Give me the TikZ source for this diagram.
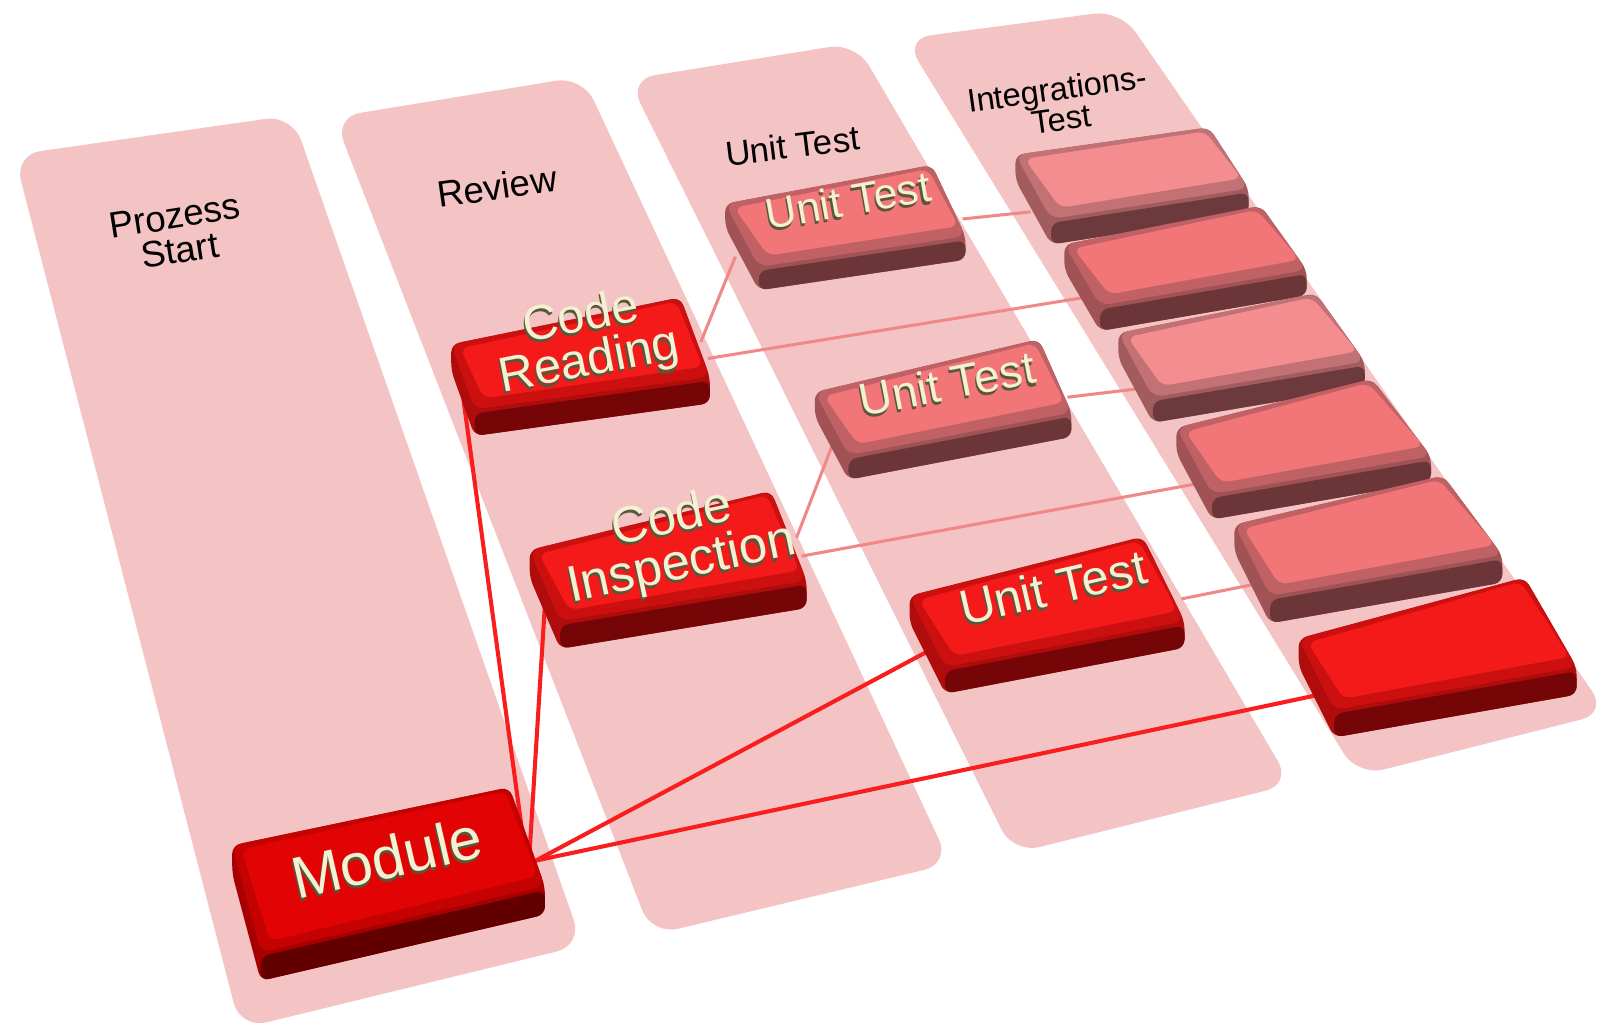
\documentclass[tikz,border=0pt]{standalone}
\usepackage{fontspec}
\setmainfont{Liberation Sans}
\usetikzlibrary{calc}
\definecolor{lanefill}{HTML}{F4C4C5}
\definecolor{rtop}{HTML}{F51A1A}
\definecolor{rbevel}{HTML}{CC1010}
\definecolor{rfront}{HTML}{760508}
\definecolor{rside}{HTML}{B00C0C}
\definecolor{mtop}{HTML}{E20404}
\definecolor{mbevel}{HTML}{C40202}
\definecolor{mfront}{HTML}{620000}
\definecolor{mside}{HTML}{A80000}
\definecolor{ptop}{HTML}{F27678}
\definecolor{pbevel}{HTML}{C06265}
\definecolor{pfront}{HTML}{6C3537}
\definecolor{pside}{HTML}{A05255}
\definecolor{qtop}{HTML}{F48D8F}
\definecolor{qbevel}{HTML}{C27274}
\definecolor{qfront}{HTML}{6C3A3C}
\definecolor{qside}{HTML}{A35C5E}
\definecolor{txtcream}{HTML}{F3F1D3}
\definecolor{txtshadow}{HTML}{5A5638}
\definecolor{redline}{HTML}{F81E1E}
\definecolor{pinkline}{HTML}{F0888A}
\tikzset{
  lane/.style={fill=lanefill, rounded corners=13pt},
  lanelabel/.style={text=black, align=center, inner sep=0pt},
  keytext/.style={text=txtcream, align=center, inner sep=0pt},
  redconn/.style={draw=redline, line width=2pt},
  pinkconn/.style={draw=pinkline, line width=1.5pt}
}
% extruded lettering: one dark copy below-left, cream on top
\newcommand{\extr}[1]{\leavevmode\rlap{\kern-0.8pt\raisebox{-1.5pt}{\color{txtshadow}#1}}#1}
% #1 name, #2 A, #3 B, #4 C, #5 D, #6 height, #7 colour scheme
\newcommand{\keybox}[7]{%
  \coordinate (#1-A) at (#2);
  \coordinate (#1-B) at (#3);
  \coordinate (#1-C) at (#4);
  \coordinate (#1-D) at (#5);
  \coordinate (#1-Ah) at ($(#1-A)+(0,#6)$);
  \coordinate (#1-Ch) at ($(#1-C)+(0,#6)$);
  \coordinate (#1-Dh) at ($(#1-D)+(0,#6)$);
  \fill[#7side, rounded corners=4pt] (#1-A) -- (#1-B) -- (#1-C) -- (#1-Ch) -- (#1-Dh) -- (#1-Ah) -- cycle;
  \fill[#7front, rounded corners=4pt] ($(#1-D)+(0,4)$) -- ($(#1-C)+(0,4)$) -- (#1-Ch) -- (#1-Dh) -- cycle;
  \fill[#7bevel, rounded corners=5pt] (#1-A) -- (#1-B) -- (#1-C) -- (#1-D) -- cycle;
  \fill[#7top, rounded corners=4pt] ($(#1-A)+(9,4)$) -- ($(#1-B)+(-4,4)$) -- ($(#1-C)+(-7,-10)$) -- ($(#1-D)+(9,-11)$) -- cycle;
}
% #1 name, #2 pos, #3 angle, #4 size, #5 skip, #6 text
\newcommand{\keylabel}[6]{%
  \node[keytext, rotate=#3, font=\fontsize{#4}{#5}\selectfont] (#1) at (#2) {#6};
}
\begin{document}
\begin{tikzpicture}[x=0.5pt,y=-0.5pt]
\useasboundingbox (0,0) rectangle (1568,1006);
% lanes
\fill[lane] (14,152) -- (287,113) -- (572,928) -- (236,1010) -- cycle;
\fill[lane] (328,115) -- (572,75) -- (933,848) -- (640,918) -- cycle;
\fill[lane] (617,78) -- (840,42) -- (1268,770) -- (995,838) -- cycle;
\fill[lane] (888,38) -- (1100,10) -- (1578,700) -- (1333,762) -- cycle;
% lane labels
\node[lanelabel, rotate=9, font=\fontsize{18pt}{17pt}\selectfont] (lab1) at (174,229) {Prozess\\Start};
\node[lanelabel, rotate=8, font=\fontsize{18pt}{15pt}\selectfont] (lab2) at (488,183) {Review};
\node[lanelabel, rotate=7, font=\fontsize{17pt}{15pt}\selectfont] (lab3) at (778,143) {Unit Test};
\node[lanelabel, rotate=8, font=\fontsize{16pt}{15pt}\selectfont] (lab4) at (1040,102) {Integrations-\\Test};
% connector end points
\coordinate (mod-p1) at (514,826);
\coordinate (mod-p2) at (520,836);
\coordinate (mod-p3) at (526,845);
\coordinate (cr-p1) at (455,392);
\coordinate (cr-p2) at (688,336);
\coordinate (cr-p3) at (695,352);
\coordinate (ci-p1) at (535,594);
\coordinate (ci-p2) at (782,528);
\coordinate (ci-p3) at (787,546);
\coordinate (ut1-p1) at (722,252);
\coordinate (ut1-p2) at (945,215);
\coordinate (ut2-p1) at (818,435);
\coordinate (ut2-p2) at (1048,390);
\coordinate (ut3-p1) at (910,640);
\coordinate (ut3-p2) at (1160,588);
\coordinate (i1-p) at (1012,208);
\coordinate (i2-p) at (1065,292);
\coordinate (i3-p) at (1115,382);
\coordinate (i4-p) at (1175,475);
\coordinate (i5-p) at (1235,573);
\coordinate (i6-p) at (1305,680);
% connectors
\draw[redconn] (mod-p1) -- (cr-p1);
\draw[redconn] (mod-p2) -- (ci-p1);
\draw[redconn] (mod-p3) -- (ut3-p1);
\draw[redconn] (mod-p3) -- (i6-p);
\draw[pinkconn] (cr-p2) -- (ut1-p1);
\draw[pinkconn] (cr-p3) -- (i2-p);
\draw[pinkconn] (ci-p2) -- (ut2-p1);
\draw[pinkconn] (ci-p3) -- (i4-p);
\draw[pinkconn] (ut1-p2) -- (i1-p);
\draw[pinkconn] (ut2-p2) -- (i3-p);
\draw[pinkconn] (ut3-p2) -- (i5-p);
% keys, back to front
\keybox{ut1}{712,200}{915,162}{948,232}{745,262}{23}{p}
\keybox{i1}{997,152}{1187,125}{1226,185}{1032,215}{25}{q}
\keybox{cr}{443,338}{668,292}{697,370}{466,402}{26}{r}
\keybox{i2}{1045,240}{1238,202}{1283,265}{1080,300}{25}{p}
\keybox{i3}{1098,327}{1292,288}{1340,355}{1132,390}{25}{q}
\keybox{ut2}{800,385}{1020,333}{1052,405}{833,447}{24}{p}
\keybox{i4}{1155,420}{1347,372}{1405,448}{1190,485}{25}{p}
\keybox{ci}{520,540}{757,482}{792,570}{550,610}{27}{r}
\keybox{i5}{1212,515}{1417,467}{1475,545}{1247,585}{27}{p}
\keybox{ut3}{893,585}{1122,527}{1163,610}{928,655}{26}{r}
\keybox{i6}{1275,627}{1497,567}{1548,655}{1310,697}{27}{r}
\keybox{mod}{228,830}{500,773}{535,870}{256,935}{28}{m}
% key labels
\keylabel{ut1t}{833,198}{10}{21pt}{19pt}{\extr{Unit Test}}
\keylabel{crt}{575,336}{11}{24pt}{22pt}{\extr{Code}\\\extr{Reading}}
\keylabel{ut2t}{930,378}{11}{22.5pt}{20pt}{\extr{Unit Test}}
\keylabel{cit}{665,534}{12}{25pt}{23pt}{\extr{Code}\\\extr{Inspection}}
\keylabel{ut3t}{1034,578}{13}{24pt}{20pt}{\extr{Unit Test}}
\keylabel{modt}{380,843}{13}{29pt}{25pt}{\extr{Module}}
\end{tikzpicture}
\end{document}
